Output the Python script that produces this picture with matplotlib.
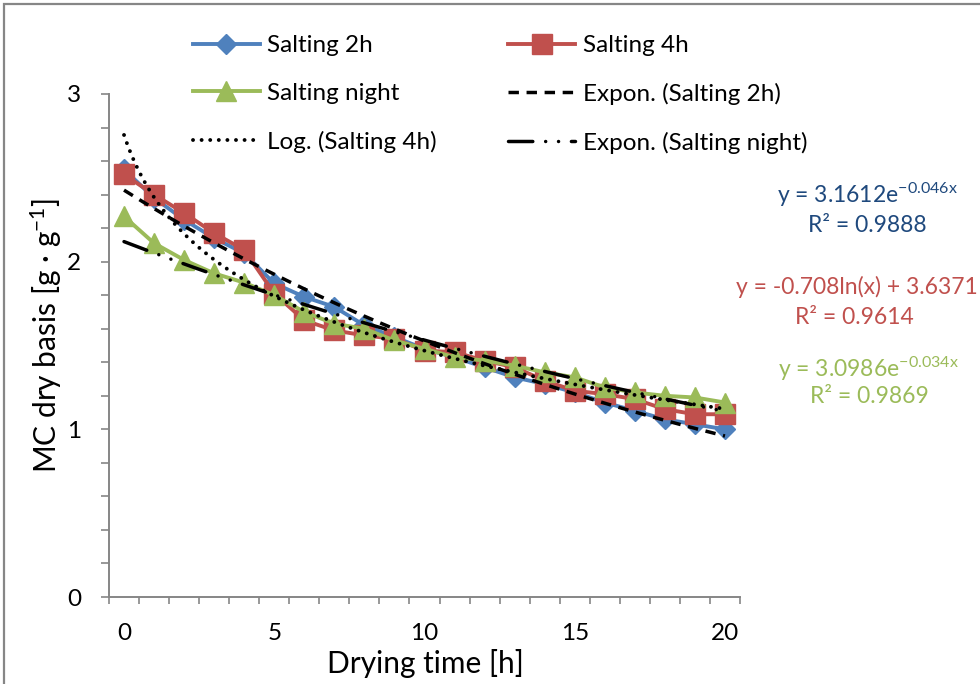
import numpy as np
import matplotlib.pyplot as plt
from matplotlib.patches import Rectangle

plt.rcParams['font.family'] = ['Lato', 'DejaVu Sans']
plt.rcParams['mathtext.fontset'] = 'custom'
plt.rcParams['mathtext.rm'] = 'Lato'
plt.rcParams['mathtext.it'] = 'Lato:italic'
plt.rcParams['mathtext.bf'] = 'Lato:bold'

# values
hours = list(range(21))
salting_2h = [2.55, 2.38, 2.25, 2.14, 2.05, 1.87, 1.79, 1.73, 1.62, 1.55, 1.48,
              1.43, 1.37, 1.31, 1.27, 1.22, 1.16, 1.11, 1.06, 1.03, 1.00]
salting_4h = [2.52, 2.40, 2.29, 2.17, 2.07, 1.81, 1.65, 1.59, 1.56, 1.54, 1.47,
              1.46, 1.41, 1.37, 1.29, 1.23, 1.21, 1.18, 1.12, 1.09, 1.09]
salting_night = [2.27, 2.11, 2.01, 1.93, 1.875, 1.80, 1.70, 1.63, 1.60, 1.53, 1.48,
                 1.43, 1.41, 1.38, 1.34, 1.31, 1.25, 1.22, 1.20, 1.19, 1.16]
tick_hours = [0, 5, 10, 15, 20]

eq_2h = ["y = 3.1612e$^{\\mathregular{-0.046x}}$", "R² = 0.9888"]
eq_4h = ["y = -0.708ln(x) + 3.6371", "R² = 0.9614"]
eq_night = ["y = 3.0986e$^{\\mathregular{-0.034x}}$", "R² = 0.9869"]

BLUE = '#4F81BD'
RED = '#C0504D'
GREEN = '#9BBB59'
AXIS = '#868686'
FS = 17.5
FS_TITLE = 21.5
FS_EQ = 16.5

fig = plt.figure(figsize=(9.8, 6.84), dpi=100)
ax = fig.add_axes([109 / 980, 1 - 597 / 684, 631 / 980, 503 / 684])

l2h, = ax.plot(hours, salting_2h, '-D', color=BLUE, lw=2.8, ms=10, label="Salting 2h", zorder=3)
l4h, = ax.plot(hours, salting_4h, '-s', color=RED, lw=2.8, ms=15, label="Salting 4h", zorder=4)
lnt, = ax.plot(hours, salting_night, '-^', color=GREEN, lw=2.8, ms=15, label="Salting night", zorder=5)

# trendlines, fitted the way the spreadsheet does it (x = 1, 2, 3, ...)
idx = np.array(hours) + 1.0
xs = np.linspace(1, 21, 200)

k, lna = np.polyfit(idx, np.log(salting_2h), 1)
t2h, = ax.plot(xs - 1, np.exp(lna + k * xs), color='black', lw=2.5,
               linestyle=(0, (3, 2.2)), label="Expon. (Salting 2h)", zorder=6)

b, a = np.polyfit(np.log(idx), salting_4h, 1)
t4h, = ax.plot(xs - 1, a + b * np.log(xs), color='black', lw=2.8,
               linestyle=(0, (0.01, 2.2)), dash_capstyle='round',
               label="Log. (Salting 4h)", zorder=6)

k, lna = np.polyfit(idx, np.log(salting_night), 1)
tnt, = ax.plot(xs - 1, np.exp(lna + k * xs), color='black', lw=2.5,
               linestyle=(0, (7, 3.7, 0.01, 3.7, 0.01, 3.7)), dash_capstyle='round',
               label="Expon. (Salting night)", zorder=6)

ax.set_xlim(-0.5, 20.5)
ax.set_ylim(0, 3)
ax.set_xticks(tick_hours)
ax.set_xticks(np.arange(-0.5, 21, 1), minor=True)
ax.set_yticks([0, 1, 2, 3])
ax.set_yticks(np.arange(0, 3.01, 0.2), minor=True)
ax.tick_params(axis='x', which='major', length=0, pad=19, labelsize=FS)
ax.tick_params(axis='x', which='minor', length=5, width=1.2, color=AXIS)
ax.tick_params(axis='y', which='major', length=6, width=1.2, color=AXIS, pad=14, labelsize=FS)
ax.tick_params(axis='y', which='minor', length=6, width=1.2, color=AXIS)
for s in ['top', 'right']:
    ax.spines[s].set_visible(False)
for s in ['left', 'bottom']:
    ax.spines[s].set_color(AXIS)
    ax.spines[s].set_linewidth(1.4)

fig.text(425 / 980, 1 - 663 / 684, "Drying time [h]", fontsize=FS_TITLE, ha='center', va='center')
fig.text(46 / 980, 1 - 335 / 684, "MC dry basis [g · g$^{\\mathregular{-1}}$]", fontsize=FS_TITLE,
         ha='center', va='center', rotation=90)

handles = [l2h, lnt, t4h, l4h, t2h, tnt]
fig.legend(handles=handles, labels=[h.get_label() for h in handles], ncol=2,
           loc='upper left', bbox_to_anchor=(193 / 980, 1 - 35 / 684),
           frameon=False, fontsize=FS, handlelength=2.75, handletextpad=0.3,
           columnspacing=2.95, labelspacing=1.1, borderpad=0, borderaxespad=0,
           numpoints=1)

fig.text(867 / 980, 1 - 195 / 684, eq_2h[0], color='#1F497D', fontsize=FS_EQ, ha='center', va='center')
fig.text(867 / 980, 1 - 225 / 684, eq_2h[1], color='#1F497D', fontsize=FS_EQ, ha='center', va='center')
fig.text(978 / 980, 1 - 287 / 684, eq_4h[0], color=RED, fontsize=FS_EQ, ha='right', va='center')
fig.text(854 / 980, 1 - 318 / 684, eq_4h[1], color=RED, fontsize=FS_EQ, ha='center', va='center')
fig.text(868 / 980, 1 - 369 / 684, eq_night[0], color=GREEN, fontsize=FS_EQ, ha='center', va='center')
fig.text(869 / 980, 1 - 397 / 684, eq_night[1], color=GREEN, fontsize=FS_EQ, ha='center', va='center')

# outer chart border
fig.patches.append(Rectangle((4 / 980, -0.05), 1.1, 1.05 - 4 / 684, transform=fig.transFigure,
                             fill=False, edgecolor=AXIS, lw=1.6))

fig.savefig("out.png", dpi=100)
